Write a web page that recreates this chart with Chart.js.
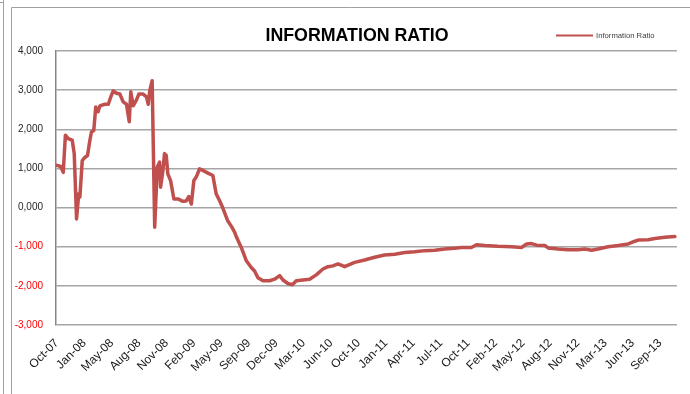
<!DOCTYPE html>
<html>
<head>
<meta charset="utf-8">
<script src="https://cdn.jsdelivr.net/npm/chart.js@4/dist/chart.umd.min.js"></script>
<style>
  html, body { margin: 0; padding: 0; background: #fff; }
  canvas { display: block; }
</style>
</head>
<body>
<canvas id="grafico" width="690" height="394"></canvas>
<script>
// semanas desde o inicio (out-07) e valores
const semanas = [0, 1.9, 3.2, 4.3, 5.7, 7.8, 8.8, 10, 11.1, 11.7, 12.9, 14.2, 15.6, 16.8, 17.6, 18.8,
  19.8, 21, 21.9, 24.4, 26.2, 27.5, 28.7, 30.4, 32.1, 33.8, 35.5, 36.9, 37.7, 38.9, 40.6, 41.8,
  44, 45.7, 46.6, 47.4, 48.6, 49.9, 51.2, 52.4, 52.9, 54.1, 54.9, 55.8, 56.6, 58, 59.7, 61.7,
  64.3, 66, 67.3, 68.6, 69.9, 71.1, 72.8, 74.5, 77.1, 79.6, 81.3, 83, 84.6, 87.1, 89.3, 90.7,
  91.7, 94.1, 96.7, 99.2, 100.9, 102.6, 105.2, 108.6, 111.1, 113.7, 115.4, 117.9, 120.2, 122.2,
  125.6, 129, 132.4, 135.8, 138.4, 140.9, 143.5, 146.9, 152, 157.1, 162.2, 167.3, 172.5, 177.6,
  182.7, 187.8, 192.9, 198, 203.1, 206.5, 211.6, 214.2, 218.4, 225.2, 232.1, 237.2, 239.8, 242.3,
  244.9, 249.1, 250.8, 255.9, 261, 266.1, 269.5, 273, 276.3, 281.4, 286.6, 291.7, 295.1, 296.8,
  301.9, 305.3, 310.4, 315.5];

const infoRatio = [1.08, 1.05, 0.90, 1.85, 1.76, 1.72, 1.38, -0.29, 0.35, 0.27, 1.20, 1.28, 1.33, 1.72, 1.93, 1.97,
  2.57, 2.45, 2.60, 2.64, 2.64, 2.83, 2.98, 2.92, 2.90, 2.70, 2.64, 2.19, 2.96, 2.60, 2.75, 2.90,
  2.90, 2.83, 2.64, 2.99, 3.24, -0.50, 1.03, 1.16, 0.52, 0.95, 1.38, 1.33, 0.86, 0.69, 0.22, 0.22,
  0.16, 0.17, 0.28, 0.09, 0.69, 0.78, 0.99, 0.95, 0.88, 0.82, 0.35, 0.18, 0.00, -0.33, -0.50, -0.63,
  -0.76, -1.02, -1.36, -1.53, -1.62, -1.79, -1.87, -1.87, -1.83, -1.74, -1.85, -1.94, -1.97, -1.87,
  -1.85, -1.83, -1.72, -1.57, -1.51, -1.49, -1.44, -1.51, -1.40, -1.34, -1.27, -1.21, -1.19, -1.15,
  -1.13, -1.10, -1.09, -1.06, -1.04, -1.02, -1.02, -0.95, -0.97, -0.99, -1.00, -1.02, -0.93, -0.92,
  -0.96, -0.97, -1.03, -1.06, -1.08, -1.08, -1.06, -1.09, -1.06, -1.00, -0.97, -0.93, -0.86, -0.83,
  -0.82, -0.79, -0.76, -0.74];

// um rotulo a cada 14 semanas
const rotulos = ['Oct-07', 'Jan-08', 'May-08', 'Aug-08', 'Nov-08', 'Feb-09', 'May-09', 'Sep-09',
  'Dec-09', 'Mar-10', 'Jun-10', 'Oct-10', 'Jan-11', 'Apr-11', 'Jul-11', 'Oct-11', 'Feb-12',
  'May-12', 'Aug-12', 'Nov-12', 'Mar-13', 'Jun-13', 'Sep-13'];
const passoRotulo = 14;

const vermelho = '#c0504d';

// moldura, titulo e legenda como no Excel
const moldura = {
  id: 'moldura',
  beforeDraw(chart) {
    const c = chart.ctx;
    c.save();
    c.strokeStyle = '#a0a0a0';
    c.lineWidth = 1;
    c.beginPath();
    c.moveTo(3.5, 0); c.lineTo(3.5, 394);
    c.moveTo(0, 2.5); c.lineTo(4, 2.5);
    c.moveTo(11.5, 394); c.lineTo(11.5, 7.5); c.lineTo(690, 7.5);
    c.stroke();
    c.restore();
  },
  afterDraw(chart) {
    const c = chart.ctx;
    c.save();
    c.fillStyle = '#000';
    c.font = 'bold 17.8px "Liberation Sans", Arial, sans-serif';
    c.textAlign = 'center';
    c.textBaseline = 'alphabetic';
    c.fillText('INFORMATION RATIO', 357, 41);

    c.strokeStyle = vermelho;
    c.lineWidth = 2;
    c.beginPath();
    c.moveTo(556, 35.5); c.lineTo(593, 35.5);
    c.stroke();
    c.fillStyle = '#404040';
    c.font = '7.7px "Liberation Sans", Arial, sans-serif';
    c.textAlign = 'left';
    c.textBaseline = 'middle';
    c.fillText('Information Ratio', 596, 36);
    c.restore();
  }
};

new Chart(document.getElementById('grafico'), {
  type: 'line',
  data: {
    datasets: [{
      label: 'Information Ratio',
      data: semanas.map((s, i) => ({ x: s, y: infoRatio[i] })),
      borderColor: vermelho,
      backgroundColor: vermelho,
      borderWidth: 3.5,
      borderJoinStyle: 'round',
      borderCapStyle: 'round',
      pointRadius: 0,
      tension: 0,
      fill: false
    }]
  },
  options: {
    responsive: false,
    animation: false,
    devicePixelRatio: 1,
    layout: { padding: { top: 51, right: 13, left: 0, bottom: 0 } },
    plugins: {
      legend: { display: false },
      title: { display: false },
      tooltip: { enabled: false }
    },
    scales: {
      x: {
        type: 'linear',
        min: -0.5,
        max: 316.6,
        afterBuildTicks: scale => {
          scale.ticks = rotulos.map((_, i) => ({ value: i * passoRotulo }));
        },
        afterFit: scale => { scale.height = 69; },
        grid: { display: false },
        border: { display: false },
        ticks: {
          autoSkip: false,
          maxRotation: 45,
          minRotation: 45,
          padding: 3,
          color: '#1a1a1a',
          font: { family: '"Liberation Sans", Arial, sans-serif', size: 12 },
          callback: v => rotulos[Math.round(v / passoRotulo)]
        }
      },
      y: {
        min: -3,
        max: 4,
        afterFit: scale => { scale.width = 56; },
        grid: { color: '#a6a6a6', lineWidth: 1.5, drawTicks: false },
        border: { display: true, color: '#868686', width: 1.5 },
        ticks: {
          stepSize: 1,
          padding: 13,
          color: ctx => ctx.tick.value < 0 ? '#ff0000' : '#262626',
          font: { family: '"Liberation Sans", Arial, sans-serif', size: 10 },
          callback: v => v.toFixed(3).replace('.', ',')
        }
      }
    }
  },
  plugins: [moldura]
});
</script>
</body>
</html>
